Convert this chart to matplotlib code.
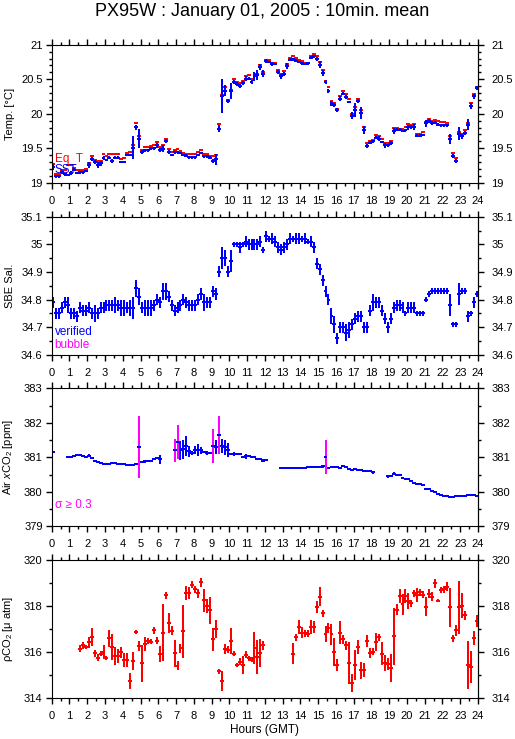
import matplotlib
matplotlib.use('Agg')
import matplotlib.pyplot as plt
import numpy as np
from matplotlib.ticker import MultipleLocator, FuncFormatter

plt.rcParams['font.family'] = ['Liberation Sans', 'DejaVu Sans']
plt.rcParams['mathtext.fontset'] = 'custom'
plt.rcParams['mathtext.rm'] = 'Liberation Sans'
plt.rcParams['mathtext.it'] = 'Liberation Sans:italic'

nan = np.nan

# 10 minute means, 144 per day
hours = np.arange(144) / 6 + 1 / 12

# Temperatura (SST azul, Eq_T rojo)
sst = [19.23, 19.09, 19.09, 19.16, 19.12, 19.11, 19.14, 19.19, 19.14, 19.15, 19.15, 19.17,
       19.26, 19.34, 19.30, 19.26, 19.28, 19.36, 19.33, 19.36, 19.32, 19.36, 19.36, 19.30,
       19.30, 19.40, 19.40, 19.51, 19.80, 19.64, 19.44, 19.47, 19.47, 19.50, 19.50, 19.54,
       19.47, 19.49, 19.60, 19.45, 19.40, 19.44, 19.44, 19.43, 19.40, 19.39, 19.37, 19.37,
       19.37, 19.40, 19.43, 19.38, 19.38, 19.36, 19.31, 19.34, 19.78, 20.26, 20.33, 20.18,
       20.33, 20.46, 20.43, 20.40, 20.44, 20.51, 20.51, 20.46, 20.54, 20.56, 20.68, 20.58,
       20.76, 20.75, 20.72, 20.72, 20.61, 20.54, 20.57, 20.69, 20.78, 20.79, 20.77, 20.75,
       20.73, 20.72, 20.73, 20.81, 20.83, 20.79, 20.71, 20.59, 20.46, 20.33, 20.15, 20.13,
       20.05, 20.22, 20.29, 20.24, 20.17, 19.97, 20.05, 20.19, 20.01, 19.76, 19.53, 19.58,
       19.60, 19.65, 19.64, 19.59, 19.54, 19.54, 19.57, 19.75, 19.77, 19.77, 19.75, 19.76,
       19.80, 19.81, 19.81, 19.68, 19.68, 19.69, 19.86, 19.90, 19.86, 19.87, 19.84, 19.83,
       19.83, 19.83, 19.63, 19.39, 19.31, 19.71, 19.67, 19.72, 19.84, 20.11, 20.25, 20.37]
sst_sd = [0.04, 0.02, 0.02, 0.03, 0.02, 0.02, 0.03, 0.02, 0.02, 0.02, 0.02, 0.02,
          0.04, 0.03, 0.03, 0.04, 0.04, 0.03, 0.02, 0.02, 0.03, 0.02, 0.02, 0.02,
          0.02, 0.02, 0.02, 0.16, 0.03, 0.14, 0.03, 0.02, 0.02, 0.02, 0.02, 0.03,
          0.03, 0.05, 0.03, 0.03, 0.02, 0.02, 0.02, 0.02, 0.02, 0.02, 0.02, 0.02,
          0.02, 0.02, 0.02, 0.02, 0.02, 0.02, 0.03, 0.08, 0.05, 0.25, 0.08, 0.03,
          0.12, 0.03, 0.03, 0.03, 0.03, 0.03, 0.02, 0.03, 0.06, 0.07, 0.04, 0.05,
          0.03, 0.02, 0.03, 0.02, 0.03, 0.03, 0.03, 0.04, 0.02, 0.02, 0.02, 0.02,
          0.02, 0.02, 0.02, 0.02, 0.02, 0.03, 0.05, 0.04, 0.03, 0.03, 0.04, 0.03,
          0.03, 0.03, 0.02, 0.03, 0.02, 0.05, 0.10, 0.03, 0.08, 0.06, 0.03, 0.02,
          0.02, 0.02, 0.03, 0.02, 0.03, 0.02, 0.03, 0.04, 0.02, 0.02, 0.02, 0.02,
          0.03, 0.03, 0.04, 0.02, 0.02, 0.02, 0.05, 0.03, 0.03, 0.02, 0.02, 0.02,
          0.02, 0.02, 0.07, 0.03, 0.03, 0.09, 0.03, 0.03, 0.08, 0.04, 0.04, 0.03]
eq_t = [19.27, 19.12, 19.13, 19.19, 19.18, 19.26, 19.26, 19.21, 19.18, 19.18, 19.19, 19.20,
        19.29, 19.38, 19.33, 19.31, 19.32, 19.41, 19.38, 19.41, 19.41, 19.41, 19.41, 19.34,
        19.36, 19.43, 19.44, 19.54, 19.86, 19.67, 19.48, 19.52, 19.52, 19.53, 19.55, 19.59,
        19.52, 19.55, 19.64, 19.49, 19.45, 19.47, 19.49, 19.46, 19.43, 19.41, 19.41, 19.41,
        19.41, 19.44, 19.47, 19.41, 19.41, 19.39, 19.39, 19.40, 19.85, 20.27, 20.38, 20.20,
        20.35, 20.51, 20.46, 20.45, 20.47, 20.54, 20.56, 20.50, 20.57, 20.58, 20.71, 20.61,
        20.78, 20.78, 20.72, 20.74, 20.63, 20.58, 20.62, 20.72, 20.81, 20.83, 20.80, 20.78,
        20.76, 20.73, 20.74, 20.83, 20.86, 20.83, 20.75, 20.63, 20.48, 20.38, 20.19, 20.16,
        20.07, 20.26, 20.33, 20.28, 20.21, 19.99, 20.10, 20.22, 20.06, 19.81, 19.57, 19.61,
        19.62, 19.69, 19.67, 19.64, 19.58, 19.58, 19.61, 19.79, 19.79, 19.78, 19.78, 19.81,
        19.85, 19.84, 19.85, 19.71, 19.71, 19.74, 19.88, 19.92, 19.89, 19.91, 19.89, 19.88,
        19.88, 19.87, 19.67, 19.43, 19.36, 19.73, 19.71, 19.76, 19.86, 20.16, 20.29, 20.39]

# Salinidad
sal = [34.79, 34.75, 34.75, 34.77, 34.79, 34.78, 34.75, 34.75, 34.74, 34.77, 34.76, 34.76,
       34.77, 34.75, 34.75, 34.75, 34.77, 34.77, 34.78, 34.78, 34.78, 34.78, 34.78, 34.77,
       34.77, 34.77, 34.77, 34.77, 34.84, 34.81, 34.77, 34.77, 34.77, 34.77, 34.78, 34.80,
       34.79, 34.83, 34.83, 34.81, 34.78, 34.76, 34.77, 34.78, 34.80, 34.79, 34.78, 34.78,
       34.78, 34.80, 34.82, 34.79, 34.79, 34.79, 34.83, 34.82, 34.90, 34.95, 34.95, 34.90,
       34.94, 35.00, 35.00, 34.99, 35.00, 35.01, 35.00, 35.00, 35.00, 35.00, 35.01, 34.98,
       35.03, 35.02, 35.02, 35.01, 34.99, 34.98, 34.99, 35.00, 35.02, 35.02, 35.02, 35.02,
       35.02, 35.02, 35.01, 35.01, 34.99, 34.93, 34.91, 34.87, 34.83, 34.80, 34.74, 34.71,
       34.66, 34.70, 34.70, 34.68, 34.69, 34.71, 34.73, 34.74, 34.74, 34.70, 34.70, 34.76,
       34.79, 34.79, 34.79, 34.76, 34.73, 34.70, 34.73, 34.77, 34.78, 34.78, 34.77, 34.75,
       34.77, 34.77, 34.77, 34.75, 34.75, 34.75, 34.80, 34.82, 34.83, 34.83, 34.83, 34.83,
       34.83, 34.83, 34.78, 34.71, 34.71, 34.82, 34.83, 34.83, 34.74, 34.75, 34.79, 34.82]
sal_sd = [0.02, 0.02, 0.02, 0.02, 0.02, 0.03, 0.02, 0.02, 0.02, 0.02, 0.02, 0.02,
          0.02, 0.02, 0.03, 0.02, 0.02, 0.02, 0.02, 0.02, 0.02, 0.03, 0.02, 0.03,
          0.03, 0.02, 0.03, 0.04, 0.03, 0.03, 0.02, 0.03, 0.03, 0.03, 0.02, 0.02,
          0.02, 0.03, 0.03, 0.02, 0.02, 0.02, 0.02, 0.02, 0.02, 0.02, 0.02, 0.02,
          0.02, 0.02, 0.02, 0.03, 0.02, 0.02, 0.02, 0.02, 0.02, 0.04, 0.03, 0.02,
          0.04, 0.01, 0.01, 0.02, 0.01, 0.02, 0.02, 0.02, 0.02, 0.02, 0.02, 0.01,
          0.02, 0.01, 0.02, 0.02, 0.02, 0.02, 0.02, 0.02, 0.02, 0.01, 0.02, 0.02,
          0.01, 0.02, 0.01, 0.02, 0.02, 0.02, 0.02, 0.02, 0.02, 0.02, 0.03, 0.03,
          0.02, 0.02, 0.02, 0.03, 0.03, 0.02, 0.02, 0.02, 0.02, 0.02, 0.02, 0.02,
          0.03, 0.02, 0.02, 0.02, 0.02, 0.02, 0.02, 0.02, 0.02, 0.02, 0.02, 0.01,
          0.02, 0.02, 0.02, 0.01, 0.01, 0.01, 0.01, 0.01, 0.01, 0.01, 0.01, 0.01,
          0.01, 0.01, 0.04, 0.01, 0.01, 0.04, 0.01, 0.01, 0.02, 0.01, 0.02, 0.01]

# xCO2 del aire
air = [381.16, nan, nan, nan, nan, 381.00, 381.01, 381.03, 381.06, 381.07, 381.05, 381.01,
       381.05, 380.99, 380.90, 380.87, 380.83, 380.81, 380.81, 380.81, 380.84, 380.84, 380.82, 380.81,
       380.80, 380.79, 380.77, 380.79, 380.81, 381.29, 380.86, 380.88, 380.88, 380.89, 380.94, 380.98,
       380.94, nan, nan, nan, nan, 381.20, 381.44, 381.20, 381.23, 381.32, 381.17, 381.13,
       381.21, 381.21, 381.21, 381.16, 381.13, 381.13, 381.33, 381.29, 381.64, 381.32, 381.29, 381.21,
       381.09, 381.09, 381.09, 381.09, 381.01, 381.03, 381.03, 381.01, 381.00, 380.96, 380.95, 380.90,
       380.92, nan, nan, nan, nan, 380.68, 380.70, 380.68, 380.68, 380.69, 380.70, 380.70,
       380.70, 380.70, 380.72, 380.73, 380.73, 380.73, 380.73, 380.74, 381.00, 380.70, 380.72, 380.72,
       380.72, 380.70, 380.75, 380.72, 380.67, 380.63, 380.65, 380.63, 380.63, 380.61, 380.61, 380.59,
       380.56, nan, nan, nan, nan, 380.45, 380.47, 380.53, 380.49, 380.49, 380.39, 380.38,
       380.36, 380.30, 380.26, 380.24, 380.24, 380.20, 380.09, 380.08, 380.01, 379.99, 379.95, 379.91,
       379.89, 379.88, 379.84, 379.85, 379.87, 379.87, 379.89, 379.89, 379.92, 379.91, 379.90, 379.89]
air_sd = [0.02, 0, 0, 0, 0, 0.02, 0.02, 0.03, 0.02, 0.03, 0.02, 0.02,
          0.05, 0.02, 0.02, 0.02, 0.02, 0.02, 0.02, 0.02, 0.02, 0.02, 0.02, 0.02,
          0.02, 0.02, 0.02, 0.02, 0.02, 0.90, 0.03, 0.04, 0.02, 0.02, 0.03, 0.04,
          0.12, 0, 0, 0, 0, 0.34, 0.50, 0.27, 0.28, 0.29, 0.15, 0.05,
          0.12, 0.18, 0.10, 0.03, 0.05, 0.03, 0.49, 0.20, 0.55, 0.20, 0.22, 0.20,
          0.03, 0.05, 0.03, 0.03, 0.03, 0.08, 0.03, 0.03, 0.03, 0.02, 0.02, 0.04,
          0.03, 0, 0, 0, 0, 0.03, 0.03, 0.02, 0.02, 0.02, 0.02, 0.02,
          0.02, 0.02, 0.02, 0.02, 0.02, 0.02, 0.02, 0.04, 0.49, 0.02, 0.02, 0.02,
          0.02, 0.02, 0.03, 0.02, 0.02, 0.02, 0.02, 0.02, 0.02, 0.02, 0.02, 0.03,
          0.03, 0, 0, 0, 0, 0.04, 0.03, 0.03, 0.03, 0.03, 0.02, 0.02,
          0.02, 0.02, 0.02, 0.02, 0.02, 0.02, 0.03, 0.02, 0.02, 0.02, 0.02, 0.02,
          0.02, 0.02, 0.03, 0.02, 0.02, 0.02, 0.02, 0.02, 0.02, 0.02, 0.02, 0.02]

# pCO2
pco2 = [nan, nan, nan, nan, nan, nan, nan, nan, nan, 316.15, 316.31, 316.23,
        316.43, 316.67, 315.95, 315.76, 315.94, 316.01, 315.76, 316.60, 316.23, 315.85, 315.85, 316.00,
        315.66, 315.66, 314.75, 315.62, 316.89, 316.27, 315.53, 316.37, 316.49, 316.46, 316.95, 316.50,
        315.94, 316.86, 318.48, 317.27, 316.94, 315.95, 315.42, 316.18, 316.92, 318.57, 318.57, 318.94,
        318.74, 318.57, 319.05, 318.27, 318.03, 317.82, 316.57, 317.01, 315.17, 314.75, 316.14, 316.11,
        316.49, 315.94, 315.45, 315.59, 315.45, 315.89, 315.74, 315.68, 316.17, 315.79, 315.97, 316.31,
        nan, nan, nan, nan, nan, nan, nan, nan, nan, 315.94, 316.66, 317.09,
        316.86, 316.83, 316.80, 317.09, 317.09, 317.96, 318.42, 317.70, 316.78, 317.06, 316.78, 316.02,
        315.45, 316.86, 316.57, 316.31, 315.53, 314.67, 315.45, 316.23, 315.21, 315.24, 316.49, 315.97,
        316.02, 316.46, 316.66, 315.94, 315.53, 315.50, 315.33, 316.69, 317.85, 318.45, 318.08, 318.45,
        318.22, 318.13, 318.57, 318.48, 318.60, 318.51, 317.99, 318.54, 318.42, 319.00, 318.25, 318.71,
        318.74, 318.86, 317.96, 316.60, 316.95, 317.96, 318.03, 317.61, 315.45, 315.36, 316.63, 317.35]
pco2_sd = [0, 0, 0, 0, 0, 0, 0, 0, 0, 0.15, 0.15, 0.10,
           0.25, 0.40, 0.15, 0.15, 0.10, 0.30, 0.10, 0.35, 0.55, 0.40, 0.30, 0.25,
           0.30, 0.30, 0.35, 0.40, 0.10, 0.20, 0.80, 0.30, 0.15, 0.10, 0.15, 0.15,
           0.35, 1.25, 0.15, 0.45, 0.20, 0.60, 0.20, 0.20, 1.15, 0.30, 0.25, 0.15,
           0.15, 0.20, 0.20, 0.50, 0.30, 0.60, 0.50, 0.40, 0.10, 0.45, 0.20, 0.15,
           0.55, 0.10, 0.10, 0.15, 0.40, 0.15, 0.10, 0.10, 0.70, 0.75, 0.60, 0.20,
           0, 0, 0, 0, 0, 0, 0, 0, 0, 0.45, 0.15, 0.30,
           0.25, 0.15, 0.15, 0.30, 0.25, 0.25, 0.40, 0.15, 0.35, 0.20, 0.45, 0.60,
           0.25, 0.50, 0.20, 0.20, 0.90, 0.40, 0.65, 0.30, 0.35, 0.30, 0.25, 0.20,
           0.15, 0.40, 0.15, 0.50, 0.35, 0.25, 0.60, 1.25, 0.25, 0.30, 0.45, 0.30,
           0.35, 0.15, 0.15, 0.30, 0.15, 0.15, 0.40, 0.20, 0.20, 0.20, 0.07, 0.15,
           0.15, 0.20, 0.85, 0.15, 0.25, 1.15, 0.55, 0.20, 1.05, 0.70, 0.30, 0.25]

W, H = 515, 739
fig = plt.figure(figsize=(W / 100, H / 100), dpi=100)

half = 0.11


def barras(ax, y, yerr=None, color='blue', lw=1.4, xerr=half):
    # error bars drawn crisp, like the original pixel plot
    cont = ax.errorbar(hours, y, xerr=xerr, yerr=yerr, fmt='none', ecolor=color, elinewidth=lw)
    for lc in cont.lines[2]:
        lc.set_antialiased(False)
    return cont


def panel(top, ylim, major, minor, ylabel):
    ax = fig.add_axes([51.7 / W, 1 - (top + 138) / H, 426.3 / W, 138 / H])
    ax.set_xlim(0, 24)
    ax.set_ylim(ylim)
    ax.xaxis.set_major_locator(MultipleLocator(1))
    ax.xaxis.set_minor_locator(MultipleLocator(0.5))
    ax.yaxis.set_major_locator(MultipleLocator(major))
    ax.yaxis.set_minor_locator(MultipleLocator(minor))
    fmt = FuncFormatter(lambda v, p: '%g' % round(v, 3))
    ax.yaxis.set_major_formatter(fmt)
    ax.tick_params(which='both', direction='out', top=True, right=False, labelsize=8, width=1)
    ax.tick_params(which='major', length=4.5)
    ax.tick_params(which='minor', length=2.5)
    ax.tick_params(axis='y', pad=2)
    ax.tick_params(axis='x', pad=5)
    sec = ax.secondary_yaxis('right')
    sec.yaxis.set_major_locator(MultipleLocator(major))
    sec.yaxis.set_minor_locator(MultipleLocator(minor))
    sec.yaxis.set_major_formatter(fmt)
    sec.tick_params(which='both', direction='out', labelsize=8, width=1)
    sec.tick_params(which='major', length=4.5, pad=5)
    sec.tick_params(which='minor', length=2.5)
    ax.set_ylabel(ylabel, fontsize=8)
    ax.yaxis.set_label_coords(-0.085, 0.5)
    return ax


# Panel 1: temperatura
ax1 = panel(44.7, (19, 21), 0.5, 0.1, 'Temp. [°C]')
barras(ax1, eq_t, color='red', lw=1.4)
barras(ax1, sst, sst_sd, color='blue', lw=1.4)
ax1.text(0.007, 0.175, 'Eq_T', color='red', fontsize=8.5, transform=ax1.transAxes, va='center')
ax1.text(0.007, 0.09, 'SST', color='blue', fontsize=8.5, transform=ax1.transAxes, va='center')

# Panel 2: salinidad
ax2 = panel(216.7, (34.6, 35.1), 0.1, 0.05, 'SBE Sal.')
barras(ax2, sal, sal_sd, color='blue', lw=1.4)
ax2.text(0.007, 0.165, 'verified', color='blue', fontsize=8.5, transform=ax2.transAxes, va='center')
ax2.text(0.007, 0.07, 'bubble', color='magenta', fontsize=8.5, transform=ax2.transAxes, va='center')

# Panel 3: xCO2 aire
air = np.array(air)
air_sd = np.array(air_sd)
big = air_sd >= 0.3
ax3 = panel(388.3, (379, 383), 1, 0.5, 'Air $x$CO$_2$ [ppm]')
c = ax3.errorbar(hours[~big], air[~big], yerr=air_sd[~big], fmt='none', ecolor='blue', elinewidth=1.1)
for lc in c.lines[2]:
    lc.set_antialiased(False)
c = ax3.errorbar(hours[big], air[big], yerr=air_sd[big], fmt='none', ecolor='magenta', elinewidth=1.1)
for lc in c.lines[2]:
    lc.set_antialiased(False)
barras(ax3, air, color='blue', lw=1.1)
ax3.text(0.007, 0.156, 'σ ≥ 0.3', color='magenta', fontsize=8.5, transform=ax3.transAxes, va='center')

# Panel 4: pCO2
ax4 = panel(560.3, (314, 320), 2, 1, 'ρCO$_2$ [μ atm]')
barras(ax4, pco2, pco2_sd, color='red', lw=1.1)

fig.text(262 / W, 1 - 12 / H, 'PX95W : January 01, 2005 : 10min. mean',
         ha='center', va='center', fontsize=13)
fig.text(264.5 / W, 1 - 730 / H, 'Hours (GMT)', ha='center', va='center', fontsize=8.5)

fig.savefig('out.png', dpi=100)
